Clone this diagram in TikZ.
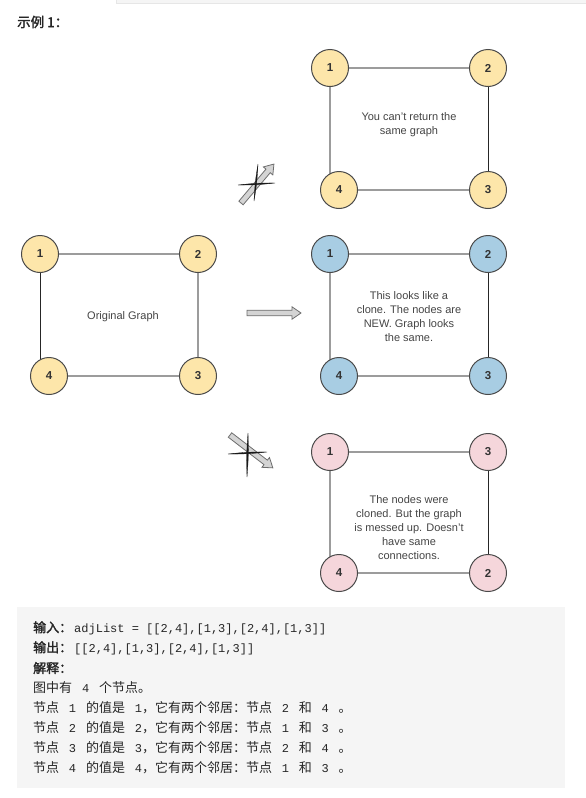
\documentclass[tikz,border=0pt]{standalone}
\usepackage{fontspec}
\setmainfont{Liberation Sans}
\setmonofont{Liberation Mono}
\newfontfamily\cjk{Noto Sans CJK SC}[AutoFakeBold=2]
\usetikzlibrary{calc}
\pgfdeclarelayer{bg}
\pgfsetlayers{bg,main}
\definecolor{ylw}{HTML}{FDE6AA}
\definecolor{blu}{HTML}{A8CDE3}
\definecolor{pnk}{HTML}{F5D6DB}
\definecolor{rim}{HTML}{4A4A4A}
\definecolor{edg}{HTML}{9C9C9C}
\definecolor{txt}{HTML}{444444}
\definecolor{panel}{HTML}{F5F5F5}
\definecolor{panelrim}{HTML}{E6E6E6}
\definecolor{arrowfill}{HTML}{D4D4D4}
\definecolor{arrowrim}{HTML}{6E6E6E}
\tikzset{
  vtx/.style={circle, draw=rim, line width=1pt, minimum size=37pt, inner sep=0pt,
    font=\fontsize{11.5pt}{13pt}\selectfont\bfseries, text=black!80},
  yv/.style={vtx, fill=ylw},
  bv/.style={vtx, fill=blu},
  pv/.style={vtx, fill=pnk},
  gedge/.style={draw=edg, line width=1.4pt},
  kedge/.style={draw=black!85, line width=1pt},
  note/.style={align=center, text=txt, font=\fontsize{11pt}{14pt}\selectfont},
  fat/.style={fill=arrowfill, draw=arrowrim, line width=0.8pt, line join=miter},
  crossmark/.style={fill=black!90, draw=black!90, line width=0.3pt},
  cjkline/.style={anchor=west, inner sep=0pt, text=black!85, font=\cjk\fontsize{13pt}{20pt}\selectfont},
}
\newcommand\fatarrow[3]{%
  \begin{scope}[shift={#1}, rotate=#2]
    \draw[fat] (0,-2.8) -- ({#3-9},-2.8) -- ({#3-9},-6.2) -- (#3,0) -- ({#3-9},6.2) -- ({#3-9},2.8) -- (0,2.8) -- cycle;
  \end{scope}}
\newcommand\tn[1]{{\ttfamily\fontsize{12pt}{20pt}\selectfont #1}}
\newcommand\gp{\hspace{9.8pt}}
\begin{document}
\begin{tikzpicture}[x=1pt, y=-1pt]
\useasboundingbox (0,0) rectangle (586,798);
% top strip and title
\filldraw[fill=panel, draw=panelrim, line width=0.6pt] (116.5,-2) rectangle (588,3.5);
\node[anchor=west, inner sep=0pt, text=black!85, font=\cjk\bfseries\fontsize{13.5pt}{15pt}\selectfont] (title) at (17,22) {示例 1：};

% original graph
\node[yv] (o1) at (40,254) {1};
\node[yv] (o2) at (198,254) {2};
\node[yv] (o3) at (198,376) {3};
\node[yv] (o4) at (49,376) {4};
\node[note] (onote) at (123,317) {Original Graph};

% top graph
\node[yv] (t1) at (330,68) {1};
\node[yv] (t2) at (488,68) {2};
\node[yv] (t3) at (488,190) {3};
\node[yv] (t4) at (339,190) {4};
\node[note] (tnote) at (409,125) {You can't return the\\same graph};

% blue graph
\node[bv] (b1) at (330,254) {1};
\node[bv] (b2) at (488,254) {2};
\node[bv] (b3) at (488,376) {3};
\node[bv] (b4) at (339,376) {4};
\node[note] (bnote) at (409,317) {This looks like a\\clone. The nodes are\\NEW. Graph looks\\the same.};

% pink graph
\node[pv] (p1) at (330,452) {1};
\node[pv] (p3) at (488,452) {3};
\node[pv] (p2) at (488,573) {2};
\node[pv] (p4) at (339,573) {4};
\node[note] (pnote) at (409,528) {The nodes were\\cloned. But the graph\\is messed up. Doesn't\\have same\\connections.};

\begin{pgfonlayer}{bg}
  \draw[gedge] (o1) -- (o2);
  \draw[kedge] (o1) -- (o1 |- o4);
  \draw[gedge] (o2) -- (o3);
  \draw[gedge] (o4) -- (o3);
  \draw[gedge] (t1) -- (t2);
  \draw[gedge] (t1) -- (t1 |- t4);
  \draw[kedge] (t2) -- (t3);
  \draw[gedge] (t4) -- (t3);
  \draw[gedge] (b1) -- (b2);
  \draw[gedge] (b1) -- (b1 |- b4);
  \draw[kedge] (b2) -- (b3);
  \draw[gedge] (b4) -- (b3);
  \draw[gedge] (p1) -- (p3);
  \draw[gedge] (p1) -- (p1 |- p4);
  \draw[kedge] (p3) -- (p2);
  \draw[gedge] (p4) -- (p2);
\end{pgfonlayer}

% fat arrows
\fatarrow{(247,313)}{0}{54}
\fatarrow{(241,203)}{49.8}{51}
\fatarrow{(230,435)}{-37.5}{54}

% crosses
\coordinate (ca1) at (238,185); \coordinate (ca2) at (275,183);
\coordinate (ca3) at (258,164); \coordinate (ca4) at (254,201);
\coordinate (cb1) at (228,454); \coordinate (cb2) at (267,452);
\coordinate (cb3) at (248,433); \coordinate (cb4) at (247,477);
\fill[crossmark] (ca1) to[bend left=3.5] (ca2) to[bend left=3.5] (ca1);
\fill[crossmark] (ca3) to[bend left=3.5] (ca4) to[bend left=3.5] (ca3);
\fill[crossmark] (cb1) to[bend left=3.5] (cb2) to[bend left=3.5] (cb1);
\fill[crossmark] (cb3) to[bend left=3.5] (cb4) to[bend left=3.5] (cb3);

% explanation panel
\fill[panel] (17,607) rectangle (565,788);
\node[cjkline] (l1) at (33,628) {{\bfseries 输入：}\hspace{2pt}\tn{adjList = [[2,4],[1,3],[2,4],[1,3]]}};
\node[cjkline] (l2) at (33,648) {{\bfseries 输出：}\hspace{2pt}\tn{[[2,4],[1,3],[2,4],[1,3]]}};
\node[cjkline] (l3) at (33,668) {{\bfseries 解释：}};
\node[cjkline] (l4) at (33,688) {图中有\gp\tn{4}\gp 个节点。};
\node[cjkline] (l5) at (33,708) {节点\gp\tn{1}\gp 的值是\gp\tn{1}，它有两个邻居：节点\gp\tn{2}\gp 和\gp\tn{4}\gp 。};
\node[cjkline] (l6) at (33,728) {节点\gp\tn{2}\gp 的值是\gp\tn{2}，它有两个邻居：节点\gp\tn{1}\gp 和\gp\tn{3}\gp 。};
\node[cjkline] (l7) at (33,748) {节点\gp\tn{3}\gp 的值是\gp\tn{3}，它有两个邻居：节点\gp\tn{2}\gp 和\gp\tn{4}\gp 。};
\node[cjkline] (l8) at (33,768) {节点\gp\tn{4}\gp 的值是\gp\tn{4}，它有两个邻居：节点\gp\tn{1}\gp 和\gp\tn{3}\gp 。};
\end{tikzpicture}
\end{document}
